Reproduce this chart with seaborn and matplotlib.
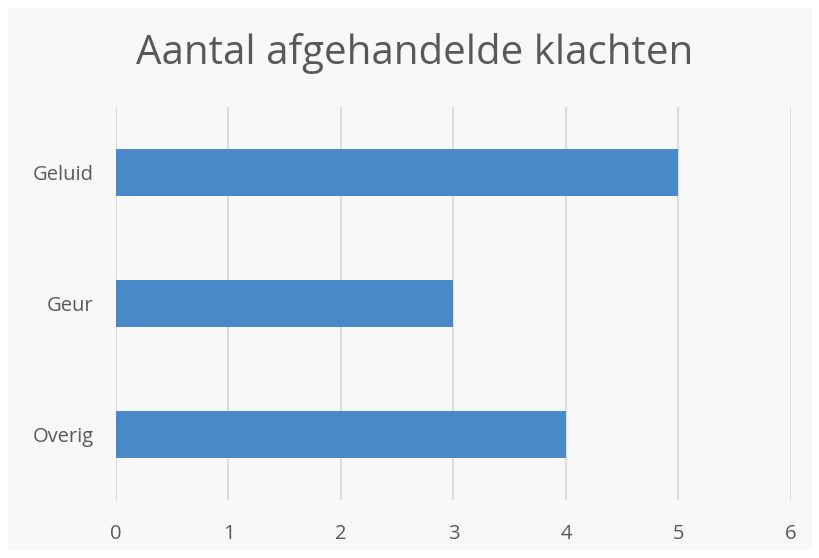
import matplotlib
matplotlib.use("Agg")
import matplotlib.pyplot as plt
import seaborn as sns
import pandas as pd
from matplotlib.patches import Rectangle

# Data
categorieen = ["Geluid", "Geur", "Overig"]
aantallen = [5, 3, 4]

df = pd.DataFrame({"Categorie": categorieen, "Aantal": aantallen})

sns.set_theme(style="white")
plt.rcParams["font.family"] = ["Open Sans", "DejaVu Sans"]

fig = plt.figure(figsize=(8.2, 5.58), dpi=100, facecolor="white")
# lichtgrijze achtergrond met witte rand
achtergrond = Rectangle((8 / 820, 8 / 558), 804 / 820, 542 / 558,
                        transform=fig.transFigure, facecolor="#f8f8f8",
                        edgecolor="none", zorder=-10)
fig.add_artist(achtergrond)

ax = fig.add_axes([116 / 820, 1 - 500 / 558, 675 / 820, 393 / 558])
ax.set_facecolor("none")

sns.barplot(data=df, x="Aantal", y="Categorie", color="#4a89c8",
            width=0.355, saturation=1, linewidth=0, ax=ax, zorder=3)

ax.set_xlim(0, 6)
ax.set_ylim(2.5, -0.5)
ax.set_xticks(range(0, 7))
ax.grid(axis="x", color="#d9d9d9", linewidth=1.3, zorder=0)
ax.grid(axis="y", visible=False)
ax.set_axisbelow(True)
for s in ax.spines.values():
    s.set_visible(False)

ax.set_xlabel("")
ax.set_ylabel("")
ax.tick_params(axis="x", length=0, pad=17.5, labelsize=14.5, labelcolor="#595959")
ax.tick_params(axis="y", length=0, pad=16, labelsize=14.5, labelcolor="#595959")

fig.text(0.506, 1 - 53 / 558, "Aantal afgehandelde klachten", ha="center", va="center",
         fontsize=29, color="#595959")

fig.savefig("out.png", dpi=100, facecolor=fig.get_facecolor())
